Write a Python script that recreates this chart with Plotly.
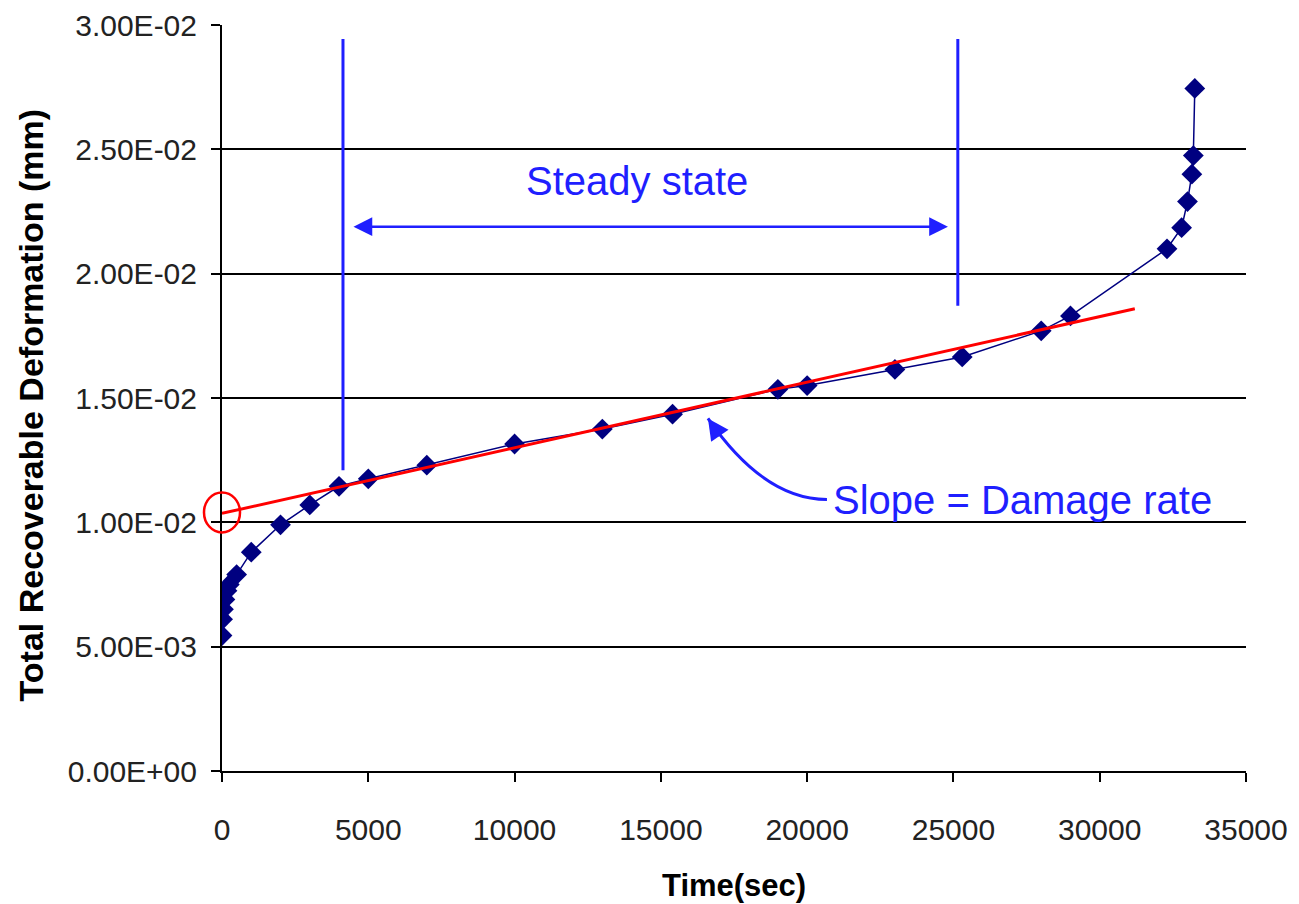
import plotly.graph_objects as go

# ---- data ----
time_sec = [0, 20, 50, 100, 170, 250, 500, 1000, 2000, 3000, 4000, 5000, 7000,
            10000, 13000, 15400, 19000, 20000, 23000, 25300, 28000, 29000,
            32300, 32800, 33000, 33150, 33200, 33250]
deformation_mm = [5.45e-3, 6.1e-3, 6.5e-3, 6.9e-3, 7.25e-3, 7.5e-3, 7.9e-3, 8.8e-3,
                  9.9e-3, 10.7e-3, 11.45e-3, 11.75e-3, 12.3e-3, 13.15e-3, 13.75e-3,
                  14.35e-3, 15.35e-3, 15.5e-3, 16.15e-3, 16.65e-3, 17.7e-3, 18.3e-3,
                  21.0e-3, 21.85e-3, 22.9e-3, 24.0e-3, 24.75e-3, 27.45e-3]

fit_time = [0, 31200]
fit_deformation = [0.01036, 0.01859]

y_tickvals = [0, 0.005, 0.010, 0.015, 0.020, 0.025, 0.030]
y_ticktext = ["0.00E+00", "5.00E-03", "1.00E-02", "1.50E-02", "2.00E-02", "2.50E-02", "3.00E-02"]
x_tickvals = [0, 5000, 10000, 15000, 20000, 25000, 30000, 35000]

Y_MAX = 0.030
X_MAX = 35000

# annotation anchor values (data units)
steady_start, steady_end = 4135, 25150
line_top = 0.02944
line1_bottom, line2_bottom = 0.01209, 0.01871
arrow_y = 0.02189
arrow_x0, arrow_x1 = 4443, 24812
steady_label_pos = (14183, 0.02373)
slope_label_pos = (20800, 0.01090)
curve_tip = (16610, 0.01418)
curve_ctrl = (18523, 0.01092)
curve_end = (20677, 0.01092)
intercept_value = 0.01040

BLUE = "#1f1fff"
NAVY = "#000080"
FONT = "Liberation Sans, Arial, sans-serif"

fig = go.Figure()

fig.add_trace(go.Scatter(
    x=time_sec, y=deformation_mm, mode="lines+markers",
    line=dict(color=NAVY, width=1.5),
    marker=dict(symbol="diamond", size=16, color=NAVY),
    showlegend=False, hoverinfo="x+y"))

fig.add_trace(go.Scatter(
    x=fit_time, y=fit_deformation, mode="lines",
    line=dict(color="#ff0000", width=3),
    showlegend=False, hoverinfo="skip"))

shapes = [
    dict(type="line", xref="x", yref="y", x0=steady_start, x1=steady_start,
         y0=line1_bottom, y1=line_top, line=dict(color=BLUE, width=3)),
    dict(type="line", xref="x", yref="y", x0=steady_end, x1=steady_end,
         y0=line2_bottom, y1=line_top, line=dict(color=BLUE, width=3)),
    dict(type="path", xref="x", yref="y",
         path=f"M {curve_end[0]},{curve_end[1]} Q {curve_ctrl[0]},{curve_ctrl[1]} {curve_tip[0]},{curve_tip[1]}",
         line=dict(color=BLUE, width=3)),
    # circle around the intercept (paper refs so it is not clipped at the axis)
    dict(type="circle", xref="paper", yref="paper", xsizemode="pixel", ysizemode="pixel",
         xanchor=0, yanchor=intercept_value / Y_MAX,
         x0=-18, x1=18, y0=-20, y1=20, line=dict(color="#ff0000", width=2.5)),
]

annotations = [
    dict(x=arrow_x1, y=arrow_y, ax=arrow_x0, ay=arrow_y, xref="x", yref="y",
         axref="x", ayref="y", text="", showarrow=True, arrowside="end+start",
         arrowhead=2, startarrowhead=2, arrowsize=1.5, startarrowsize=1.5,
         arrowwidth=2.5, arrowcolor=BLUE),
    dict(x=curve_tip[0], y=curve_tip[1], xref="x", yref="y", ax=13, ay=19,
         text="", showarrow=True, arrowhead=2, arrowsize=1.4, arrowwidth=3,
         arrowcolor=BLUE),
    dict(x=steady_label_pos[0], y=steady_label_pos[1], xref="x", yref="y",
         text="Steady state", showarrow=False,
         font=dict(family=FONT, size=40, color=BLUE)),
    dict(x=slope_label_pos[0], y=slope_label_pos[1], xref="x", yref="y",
         text="Slope = Damage rate", showarrow=False, xanchor="left",
         font=dict(family=FONT, size=40, color=BLUE)),
    dict(x=0.5, y=0, xref="paper", yref="paper", yshift=-114, yanchor="middle",
         text="<b>Time(sec)</b>", showarrow=False,
         font=dict(family=FONT, size=31, color="#000000")),
    dict(x=0, y=0.49, xref="paper", yref="paper", xshift=-191, xanchor="center",
         yanchor="middle", textangle=-90,
         text="<b>Total Recoverable Deformation (mm)</b>", showarrow=False,
         font=dict(family=FONT, size=34, color="#000000")),
]

# the page adds an 8px body margin, so the figure is sized/placed to compensate
fig.update_layout(
    width=1283, height=896,
    margin=dict(l=214, r=45, t=17, b=133, autoexpand=False),
    plot_bgcolor="#ffffff", paper_bgcolor="#ffffff",
    shapes=shapes, annotations=annotations,
    showlegend=False,
)

fig.update_xaxes(
    range=[0, X_MAX], tickvals=x_tickvals, ticktext=[str(v) for v in x_tickvals],
    automargin=False,
    showgrid=False, zeroline=False, showline=True, linecolor="#000000", linewidth=2,
    ticks="outside", ticklen=9, tickwidth=2, tickcolor="#000000",
    ticklabelstandoff=22,
    tickfont=dict(family=FONT, size=30, color="#222222"),
)
fig.update_yaxes(
    range=[0, Y_MAX], tickvals=y_tickvals, ticktext=y_ticktext,
    automargin=False,
    showgrid=True, gridcolor="#000000", gridwidth=2, zeroline=False,
    showline=True, linecolor="#000000", linewidth=2,
    ticks="outside", ticklen=9, tickwidth=2, tickcolor="#000000",
    ticklabelstandoff=8,
    tickfont=dict(family=FONT, size=30, color="#222222"),
)

fig.write_html("out.html")
